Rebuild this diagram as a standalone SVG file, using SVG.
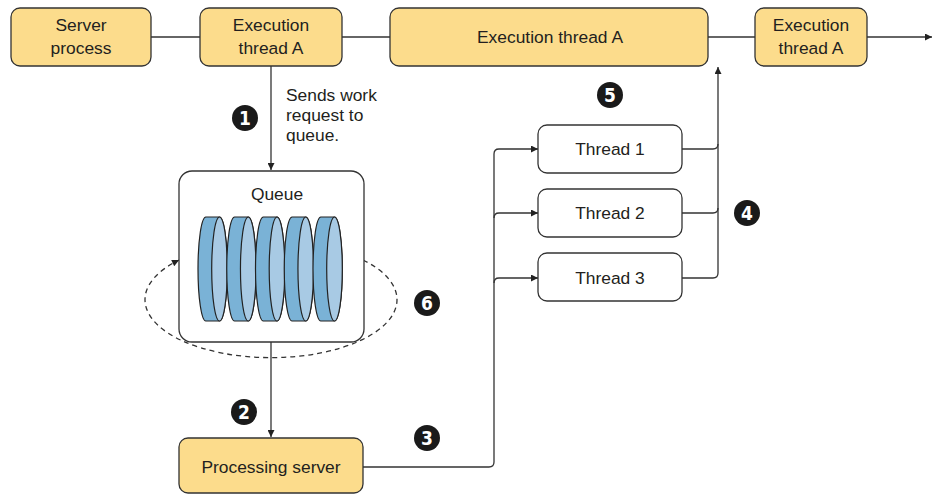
<svg xmlns="http://www.w3.org/2000/svg" width="934" height="494" viewBox="0 0 934 494">
  <style>
    .box { fill: #fcdc8c; stroke: #333; stroke-width: 1.3; }
    .plain { fill: #fff; stroke: #333; stroke-width: 1.3; }
    .lbl { font-family: "Liberation Sans", Arial, sans-serif; font-size: 17.4px; fill: #231f20; }
    .mid { text-anchor: middle; }
    .wire { fill: none; stroke: #333; stroke-width: 1.3; }
    .dash { fill: none; stroke: #333; stroke-width: 1.3; stroke-dasharray: 5 4; }
    .num circle { fill: #1a1a1a; }
    .num text { font-family: "DejaVu Sans Condensed", "Liberation Sans Narrow", sans-serif; font-weight: bold; font-size: 19px; fill: #fff; text-anchor: middle; }
    .diskBack { fill: #7ab2d6; stroke: #222; stroke-width: 1.2; }
    .diskFront { fill: #a8cae4; stroke: #222; stroke-width: 1.2; }
  </style>
  <defs>
    <marker id="arrow" viewBox="0 0 10 10" refX="10" refY="5" markerUnits="userSpaceOnUse" markerWidth="9" markerHeight="7" orient="auto">
      <path d="M0,0 L10,5 L0,10 z" fill="#222"/>
    </marker>
    <!-- one side-on disk: dark rim band plus light front face -->
    <g id="disk">
      <path class="diskBack" d="M7.8,0 H21.5 A7.8,52 0 0 1 21.5,104 H7.8 A7.8,52 0 0 1 7.8,0 Z"/>
      <ellipse class="diskFront" cx="21.5" cy="52" rx="7.8" ry="52"/>
    </g>
  </defs>

  <!-- connectors -->
  <g id="connectors">
    <path class="wire" d="M151,37 H200"/>
    <path class="wire" d="M342,37 H390"/>
    <path class="wire" d="M708,37 H755"/>
    <path class="wire" d="M867,37 H932" marker-end="url(#arrow)"/>
    <path class="wire" d="M271,66 V170" marker-end="url(#arrow)"/>
    <path class="dash" d="M363,260 A126,58 0 1 1 179,260" marker-end="url(#arrow)"/>
    <path class="wire" d="M271,342 V437" marker-end="url(#arrow)"/>
    <path class="wire" d="M363,467 H489 Q494,467 494,462 V154 Q494,149 499,149 H538" marker-end="url(#arrow)"/>
    <path class="wire" d="M494,218 Q494,213 499,213 H538" marker-end="url(#arrow)"/>
    <path class="wire" d="M494,283 Q494,278 499,278 H538" marker-end="url(#arrow)"/>
    <path class="wire" d="M682,278 H713 Q718,278 718,273 V67" marker-end="url(#arrow)"/>
    <path class="wire" d="M682,213 H713 Q718,213 718,208"/>
    <path class="wire" d="M682,149 H713 Q718,149 718,144"/>
  </g>

  <!-- top timeline -->
  <g id="server-process">
    <rect class="box" x="11" y="8" width="140" height="58" rx="9"/>
    <text class="lbl mid" x="81" y="31">Server</text>
    <text class="lbl mid" x="81" y="54">process</text>
  </g>
  <g id="exec-a-1">
    <rect class="box" x="200" y="8" width="142" height="58" rx="9"/>
    <text class="lbl mid" x="271" y="31">Execution</text>
    <text class="lbl mid" x="271" y="54">thread A</text>
  </g>
  <g id="exec-a-2">
    <rect class="box" x="390" y="8" width="318" height="58" rx="9"/>
    <text class="lbl mid" x="550" y="43">Execution thread A</text>
  </g>
  <g id="exec-a-3">
    <rect class="box" x="755" y="8" width="112" height="58" rx="9"/>
    <text class="lbl mid" x="811" y="31">Execution</text>
    <text class="lbl mid" x="811" y="54">thread A</text>
  </g>

  <!-- note on step 1 -->
  <g id="note-send">
    <text class="lbl" x="286" y="101">Sends work</text>
    <text class="lbl" x="286" y="121">request to</text>
    <text class="lbl" x="286" y="141">queue.</text>
  </g>

  <!-- queue -->
  <g id="queue">
    <rect class="plain" x="179" y="171" width="185" height="171" rx="13"/>
    <text class="lbl mid" x="277" y="200">Queue</text>
    <use href="#disk" x="198" y="217"/>
    <use href="#disk" x="226.75" y="217"/>
    <use href="#disk" x="255.5" y="217"/>
    <use href="#disk" x="284.25" y="217"/>
    <use href="#disk" x="313" y="217"/>
  </g>

  <g id="processing-server">
    <rect class="box" x="179" y="438" width="184" height="55" rx="9"/>
    <text class="lbl mid" x="271" y="473">Processing server</text>
  </g>

  <!-- worker threads -->
  <g id="thread-1">
    <rect class="plain" x="538" y="125" width="144" height="48" rx="9"/>
    <text class="lbl mid" x="610" y="155">Thread 1</text>
  </g>
  <g id="thread-2">
    <rect class="plain" x="538" y="189" width="144" height="48" rx="9"/>
    <text class="lbl mid" x="610" y="219">Thread 2</text>
  </g>
  <g id="thread-3">
    <rect class="plain" x="538" y="253" width="144" height="48" rx="9"/>
    <text class="lbl mid" x="610" y="284">Thread 3</text>
  </g>

  <!-- step markers -->
  <g id="step-1" class="num"><circle cx="245" cy="118" r="13"/><text x="245" y="125">1</text></g>
  <g id="step-2" class="num"><circle cx="244" cy="412" r="13"/><text x="244" y="419">2</text></g>
  <g id="step-3" class="num"><circle cx="427" cy="438" r="13"/><text x="427" y="445">3</text></g>
  <g id="step-4" class="num"><circle cx="747" cy="213" r="13"/><text x="747" y="220">4</text></g>
  <g id="step-5" class="num"><circle cx="610" cy="95" r="13"/><text x="610" y="102">5</text></g>
  <g id="step-6" class="num"><circle cx="427" cy="303" r="13"/><text x="427" y="310">6</text></g>
</svg>
